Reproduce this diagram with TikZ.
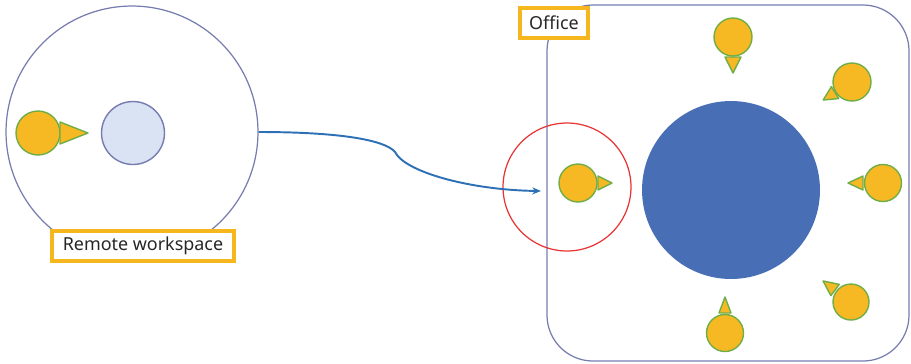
\documentclass[tikz,border=0pt]{standalone}
\usepackage{fontspec}
\setmainfont{Noto Sans}
\usetikzlibrary{calc,arrows.meta}
\definecolor{pfill}{RGB}{247,185,35}
\definecolor{pline}{RGB}{112,173,71}
\definecolor{lblue}{RGB}{218,227,243}
\definecolor{gline}{RGB}{118,124,176}
\definecolor{bigblue}{RGB}{72,110,182}
\definecolor{redc}{RGB}{232,52,52}
\definecolor{arrowc}{RGB}{46,112,182}
\definecolor{lborder}{RGB}{245,182,30}
\tikzset{
  pbody/.style={circle, draw=pline, fill=pfill, line width=0.8pt, inner sep=0pt},
  phead/.style={draw=pline, fill=pfill, line width=0.8pt, line join=round},
  lbl/.style={draw=lborder, line width=1.8pt, fill=white, inner sep=0pt, minimum height=0.6cm, font=\fontsize{10.2}{12}\selectfont, text=black!85},
  outline/.style={draw=gline, line width=0.7pt},
}
% #1 name, #2 coord, #3 size(cm), #4 angle, #5 base dist, #6 tip dist, #7 half width
\newcommand\myperson[7]{%
  \node[pbody, minimum size=#3cm] (#1) at #2 {};
  \draw[phead] ($(#1.center)+(#4:#5)+(#4+90:#7)$) -- ($(#1.center)+(#4:#5)+(#4-90:#7)$) -- ($(#1.center)+(#4:#6)$) -- cycle;
}
\begin{document}
\begin{tikzpicture}[x=0.02cm, y=-0.02cm]
\useasboundingbox (0,0) rectangle (911,363);
% remote workspace
\node[circle, outline, minimum size=5.04cm, inner sep=0pt] (remote) at (132,132) {};
\node[circle, draw=gline, line width=0.8pt, fill=lblue, minimum size=1.26cm, inner sep=0pt] (screen) at (133,133) {};
\myperson{p0}{(38,133)}{0.88}{0}{22}{50}{11}
\node[lbl, minimum width=3.64cm] (rlabel) at (143,246) {Remote workspace\hspace{6pt}};
% office
\draw[outline, rounded corners=0.92cm] (547,5) rectangle (909,361);
\coordinate (officeTL) at (547,5);
\node[lbl, minimum width=1.36cm] (olabel) at (554,23) {Office};
\node[circle, fill=bigblue, minimum size=3.56cm, inner sep=0pt] (table) at (731,190) {};
\node[circle, draw=redc, line width=0.7pt, minimum size=2.56cm, inner sep=0pt] (focus) at (567,187) {};
\myperson{p1}{(578,183)}{0.76}{0}{20}{34}{7}
\myperson{p2}{(733,37)}{0.76}{90}{20}{36}{8}
\myperson{p3}{(852,82)}{0.76}{148}{20}{34}{7}
\myperson{p4}{(883,183)}{0.74}{180}{20}{35}{7}
\myperson{p5}{(851,302)}{0.72}{217}{20}{35}{7}
\myperson{p6}{(725,333)}{0.74}{270}{20}{36}{6}
% connector
\coordinate (aend) at (541,191);
\draw[arrowc, line width=1.1pt, -{Stealth[length=5pt,width=4pt]}]
  (remote.east) .. controls (340,132) and (385,140) .. (395,152)
  .. controls (405,172) and (470,190) .. (aend);
\end{tikzpicture}
\end{document}
